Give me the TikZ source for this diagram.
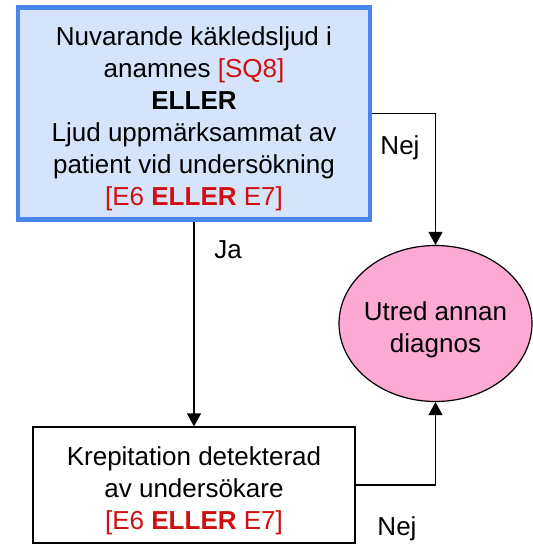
\documentclass[tikz,border=0pt]{standalone}
\usepackage{fontspec}
\setmainfont{Liberation Sans}
\usetikzlibrary{arrows.meta,shapes.geometric}
\definecolor{boxblue}{HTML}{4A86F0}
\definecolor{boxfill}{HTML}{D6E4FB}
\definecolor{pinkfill}{HTML}{FCA9D3}
\definecolor{refred}{HTML}{D01010}
\tikzset{
  txt/.style={font=\fontsize{26}{32}\selectfont},
  conn/.style={line width=1.4pt,-{Triangle[length=13pt,width=14pt]}},
  lbl/.style={txt,inner sep=0pt}
}
\newcommand{\rd}[1]{\textcolor{refred}{#1}}
\begin{document}
\begin{tikzpicture}[x=1pt,y=-1pt]
\useasboundingbox (0,0) rectangle (533,544);
\node[draw=boxblue,fill=boxfill,line width=4.8pt,minimum width=352pt,minimum height=212pt,
      inner sep=0pt,align=center,txt] (top) at (194,113.75)
  {\rule{0pt}{29pt}Nuvarande käkledsljud i\\anamnes \rd{[SQ8]}\\\textbf{ELLER}\\Ljud uppmärksammat av\\patient vid undersökning\\\rd{[E6 \textbf{ELLER} E7]}};
\node[draw,fill=pinkfill,ellipse,line width=1.2pt,minimum width=193pt,minimum height=156pt,
      inner xsep=-4pt,inner ysep=0pt,align=center,txt] (ell) at (435.5,323.5)
  {\rule{0pt}{31pt}Utred annan\\diagnos};
\node[draw,fill=white,line width=1.2pt,minimum width=322pt,minimum height=116pt,
      inner sep=0pt,align=center,txt] (bot) at (194,485)
  {\rule{0pt}{31pt}Krepitation detekterad\\av undersökare\\\rd{[E6 \textbf{ELLER} E7]}};
\draw[conn] (top.east) -| (ell.north);
\draw[conn] (top.south) -- (bot.north);
\draw[conn] (bot.east) -| (ell.south);
\node[lbl] (nej1) at (400,148) {Nej};
\node[lbl] (ja) at (228,250) {Ja};
\node[lbl] (nej2) at (397,529) {Nej};
\end{tikzpicture}
\end{document}
